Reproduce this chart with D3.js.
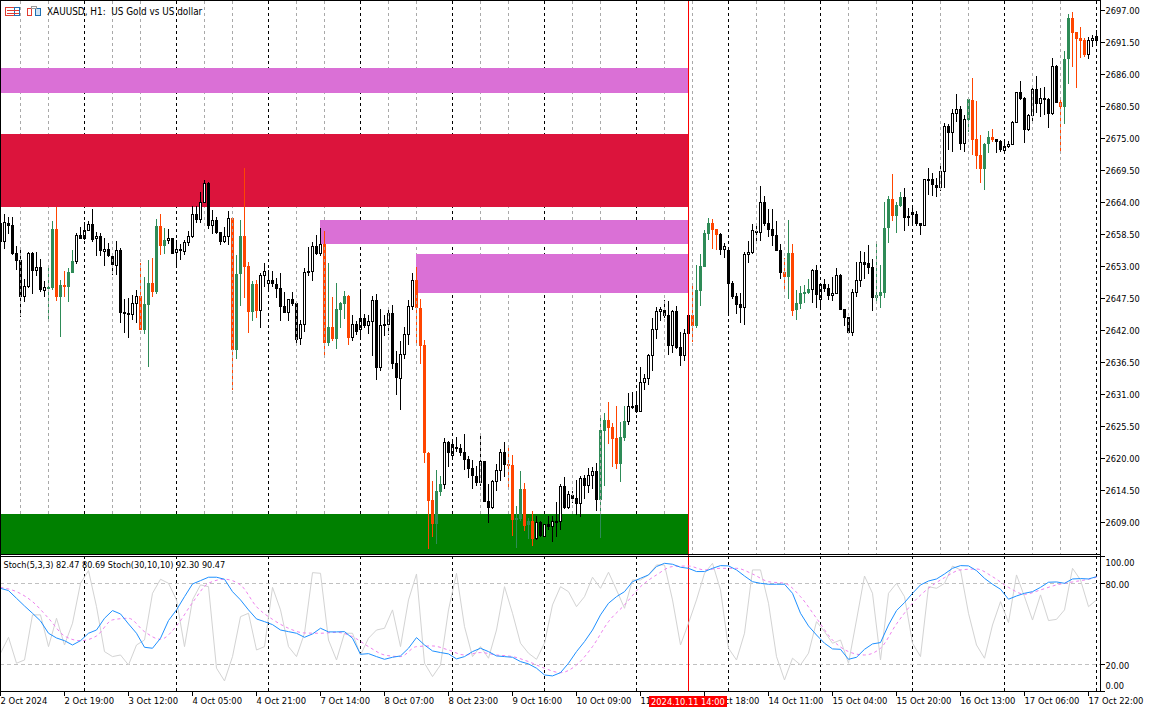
<!DOCTYPE html>
<html>
<head>
<meta charset="utf-8">
<title>XAUUSD H1</title>
<script src="https://cdn.jsdelivr.net/npm/d3@7"></script>
<style>
  html, body { margin: 0; padding: 0; background: #fff; }
  svg { display: block; }
  text { font-family: "DejaVu Sans", sans-serif; font-stretch: condensed; fill: #000; }
</style>
</head>
<body>
<div id="graph"></div>
<script>
// one letter per hourly bar: u white up, d black down, g green up, o orange down
const kinds = ("dudddduudu" + "duggogoggu" + "duudududdu" + "ddduuoggog" + "ogududuuud" +
    "uududduuog" + "googouuudd" + "ddudduudud" + "uogogggoud" + "uduudududd" +
    "uuuuooooog" + "guduuddddd" + "udduuudoog" + "gogoududud" + "ududduduud" +
    "ggoooggudd" + "uuuuuuddud" + "dudoggggoo" + "dudddduuuu" + "udddddogog" +
    "gggududduu" + "ddduuudddg" + "gggoggdddd" + "duddduuduu" + "dugoooggod" +
    "duuuudduud" + "uddudoggoo" + "oouuu").split("");

const highs = [
    2660.62,2661.94,2661.42,2661.42,2656.44,2655.75,2650.71,2655.4,2655.46,2655.4,
    2654.2,2650.48,2652.88,2660.73,2663.2,2650.59,2652.14,2652.6,2655.75,2658.73,
    2659.76,2660.62,2660.79,2662.8,2658.9,2658.61,2657.75,2656.89,2655.06,2657.3,
    2656.03,2647.27,2647.44,2647.96,2648.87,2653.46,2651.16,2654.03,2654.37,2661.08,
    2661.94,2659.53,2659.3,2657.75,2657.47,2656.78,2657.47,2659.01,2663.31,2663.31,
    2665.72,2667.78,2667.44,2662.62,2661.36,2658.84,2659.76,2662.45,2661.36,2654.89,
    2660.9,2669.84,2653.69,2650.42,2650.59,2651.79,2653.51,2652.31,2652.14,2650.93,
    2651.79,2648.53,2647.27,2648.53,2646.81,2643.71,2652.65,2656.26,2657.12,2658.33,
    2659.53,2659.01,2653.51,2647.67,2650.08,2646.81,2648.7,2648.01,2644.57,2643.54,
    2649.04,2644.75,2644.57,2647.84,2648.18,2645.61,2644.57,2645.95,2646.29,2638.39,
    2640.11,2642.51,2647.15,2651.79,2652.83,2647.32,2640.27,2621.02,2616.04,2617.93,
    2616.9,2623.43,2622.91,2623.08,2623.6,2622.4,2624.12,2620.33,2619.65,2618.62,
    2623.77,2619.48,2615.52,2616.21,2618.96,2621.54,2622.74,2622.23,2620.51,2611.74,
    2617.76,2615.69,2609.68,2610.88,2610.02,2609.16,2608.65,2610.02,2610.02,2612.43,
    2615.52,2616.72,2614.32,2614.32,2616.21,2616.9,2617.07,2618.27,2618.44,2619.13,
    2627.04,2627.73,2629.62,2626.01,2628.93,2626.18,2628.93,2631.16,2631.34,2631.16,
    2635.63,2634.43,2637.87,2644.06,2645.95,2645.95,2647.15,2646.98,2645.43,2646.12,
    2641.65,2642.17,2644.7,2650.02,2653.17,2655.06,2659.19,2661.25,2661.08,2659.36,
    2658.67,2656.95,2655.75,2650.42,2648.36,2648.36,2655.4,2657.3,2660.22,2660.05,
    2666.75,2665.03,2662.8,2662.8,2660.73,2656.78,2654.37,2660.9,2656.78,2648.87,
    2649.56,2649.73,2650.76,2652.48,2653.17,2649.9,2650.76,2649.9,2651.11,2652.65,
    2651.62,2645.61,2644.23,2649.04,2653.69,2655.58,2655.4,2656.61,2654.2,2657.3,
    2653.17,2664.0,2665.03,2668.81,2664.0,2665.72,2666.41,2662.97,2663.14,2662.45,
    2660.33,2667.95,2669.84,2668.98,2668.12,2670.18,2677.58,2677.4,2679.98,2682.56,
    2680.5,2678.95,2681.87,2685.31,2681.36,2675.51,2674.14,2676.2,2676.54,2674.83,
    2674.65,2674.31,2674.48,2677.92,2682.91,2684.8,2682.05,2679.12,2683.76,2685.66,
    2683.59,2683.76,2681.87,2688.75,2687.55,2682.05,2689.95,2696.31,2696.66,2693.22,
    2694.08,2692.19,2692.36,2692.7,2693.56
];
const lows = [
    2656.89,2655.92,2658.5,2654.83,2652.31,2644.29,2646.87,2649.16,2648.18,2651.28,
    2648.59,2647.73,2643.43,2648.87,2647.04,2640.85,2647.73,2646.87,2651.74,2653.34,
    2657.58,2657.47,2659.01,2657.18,2654.72,2654.72,2653.0,2654.49,2651.45,2651.45,
    2643.14,2641.54,2640.68,2643.71,2643.26,2642.0,2641.31,2635.69,2647.73,2648.18,
    2654.89,2655.06,2656.78,2655.06,2653.17,2654.03,2654.89,2656.44,2657.75,2660.45,
    2660.45,2663.77,2659.3,2658.5,2658.5,2656.61,2656.89,2656.61,2631.68,2637.01,
    2646.12,2647.5,2641.48,2643.54,2644.06,2642.34,2649.44,2648.76,2649.44,2647.5,
    2643.54,2644.92,2643.54,2646.12,2639.59,2639.42,2641.65,2651.28,2650.42,2654.83,
    2654.72,2637.18,2639.25,2640.11,2638.73,2642.34,2643.89,2639.42,2640.11,2641.14,
    2640.45,2642.34,2641.31,2637.53,2633.4,2634.95,2640.96,2641.14,2635.29,2630.82,
    2628.24,2637.01,2639.42,2645.43,2639.42,2636.15,2619.13,2604.35,2606.41,2605.21,
    2613.46,2614.66,2618.44,2619.65,2621.02,2620.33,2617.93,2616.55,2614.66,2615.18,
    2615.18,2612.43,2608.82,2611.22,2614.32,2616.04,2616.72,2615.01,2606.58,2604.52,
    2609.16,2607.44,2606.07,2604.86,2605.89,2606.41,2606.41,2607.61,2605.55,2606.41,
    2607.61,2611.22,2611.22,2612.26,2610.19,2609.85,2612.94,2613.97,2614.66,2610.88,
    2606.24,2615.18,2622.4,2618.44,2618.1,2615.87,2622.91,2625.66,2628.41,2627.73,
    2627.9,2631.68,2632.54,2634.95,2640.45,2643.54,2644.06,2637.7,2638.04,2638.73,
    2635.81,2636.67,2641.31,2639.93,2642.34,2646.12,2652.83,2657.47,2655.92,2655.75,
    2654.89,2654.37,2644.4,2647.32,2644.75,2643.2,2642.86,2653.51,2655.06,2657.12,
    2657.3,2659.87,2657.98,2656.44,2655.58,2650.76,2648.87,2647.32,2644.4,2643.71,
    2645.61,2646.64,2648.18,2646.64,2645.78,2645.61,2648.53,2647.15,2646.98,2648.18,
    2645.43,2642.68,2641.48,2640.96,2647.67,2649.39,2650.76,2651.62,2645.26,2646.47,
    2645.78,2647.5,2656.95,2660.73,2658.67,2663.14,2659.01,2659.87,2659.87,2659.87,
    2658.32,2659.87,2665.2,2665.03,2664.86,2665.89,2666.4,2672.93,2672.59,2677.75,
    2672.93,2672.59,2676.03,2672.08,2669.67,2667.26,2666.06,2672.42,2674.31,2672.42,
    2672.59,2672.42,2673.28,2673.79,2677.58,2681.53,2674.14,2676.2,2677.4,2679.3,
    2678.61,2678.95,2676.72,2678.95,2681.01,2672.59,2677.4,2684.28,2687.2,2683.59,
    2688.75,2688.92,2688.58,2690.64,2690.81
];
// upper and lower edge of each candle body (open/close, whichever is higher)
const bodyTop = [
    2660.33,2660.5,2660.33,2660.05,2655.17,2654.03,2649.56,2655.17,2655.17,2652.77,
    2652.77,2649.33,2649.39,2659.36,2659.36,2649.73,2649.73,2651.97,2653.86,2658.33,
    2658.33,2659.19,2660.22,2660.22,2658.15,2658.15,2655.92,2655.92,2654.72,2655.75,
    2655.75,2645.03,2644.86,2646.58,2647.84,2647.84,2646.47,2650.08,2650.08,2659.87,
    2659.87,2657.47,2657.75,2657.75,2655.92,2655.92,2657.12,2658.1,2661.94,2661.94,
    2663.94,2667.21,2667.21,2660.9,2660.9,2658.84,2658.15,2661.19,2661.25,2651.62,
    2658.15,2658.15,2653.0,2649.9,2649.9,2651.39,2652.08,2650.59,2650.59,2649.9,
    2649.22,2646.12,2647.27,2647.27,2646.58,2643.03,2651.97,2652.08,2656.44,2656.44,
    2656.78,2656.78,2642.51,2642.51,2645.61,2646.64,2647.84,2647.84,2643.03,2643.03,
    2644.06,2644.06,2643.49,2647.15,2647.15,2642.86,2643.03,2644.92,2644.92,2636.32,
    2637.87,2641.31,2646.12,2650.59,2650.59,2645.72,2639.42,2620.79,2612.77,2614.32,
    2615.52,2622.74,2622.74,2622.4,2621.88,2621.71,2621.02,2619.82,2618.27,2616.9,
    2619.48,2619.48,2612.6,2616.04,2617.93,2621.02,2621.02,2618.96,2618.79,2609.68,
    2614.66,2614.66,2609.16,2609.16,2608.99,2608.99,2608.65,2608.65,2609.16,2609.16,
    2615.18,2615.18,2613.8,2613.63,2613.11,2616.55,2616.55,2617.07,2617.76,2617.76,
    2624.8,2626.52,2626.52,2625.32,2623.43,2623.6,2626.35,2628.93,2628.93,2629.1,
    2633.06,2633.74,2637.7,2642.17,2645.26,2645.6,2645.43,2644.57,2645.26,2645.26,
    2639.07,2641.48,2644.57,2644.57,2648.87,2653.0,2658.67,2660.39,2660.39,2659.36,
    2658.5,2656.44,2655.75,2650.08,2647.84,2646.47,2655.06,2655.4,2659.19,2659.01,
    2664.0,2664.0,2660.39,2659.36,2658.33,2655.75,2651.97,2655.23,2655.23,2646.64,
    2648.36,2648.53,2649.04,2652.31,2652.31,2649.9,2649.9,2649.22,2648.36,2651.45,
    2651.45,2645.61,2644.23,2648.53,2650.59,2653.69,2653.69,2653.51,2652.83,2648.01,
    2648.53,2659.53,2664.51,2664.51,2663.48,2664.86,2664.86,2661.59,2662.28,2661.94,
    2660.33,2667.95,2667.95,2667.95,2666.92,2669.33,2677.06,2677.06,2679.3,2679.98,
    2679.98,2678.26,2681.7,2681.53,2674.83,2672.08,2673.97,2675.17,2675.17,2674.83,
    2674.48,2673.62,2673.97,2677.75,2682.91,2682.91,2681.87,2678.95,2683.42,2683.42,
    2681.87,2681.87,2681.76,2687.37,2687.37,2681.19,2688.58,2695.63,2695.63,2693.22,
    2692.19,2691.84,2691.84,2692.19,2692.53
];
const bodyBottom = [
    2657.18,2657.18,2659.87,2655.06,2653.91,2647.73,2647.73,2649.44,2652.2,2652.2,
    2648.87,2648.76,2649.27,2649.27,2647.73,2647.73,2649.39,2649.44,2651.85,2653.74,
    2657.7,2657.7,2659.07,2657.47,2657.58,2655.63,2655.46,2654.72,2653.11,2653.0,
    2644.86,2644.75,2644.57,2644.63,2646.47,2642.0,2642.0,2646.29,2648.53,2648.53,
    2656.44,2656.44,2657.35,2655.06,2655.29,2655.58,2655.4,2657.01,2657.98,2660.9,
    2660.9,2663.88,2659.87,2659.93,2658.73,2657.12,2657.12,2658.04,2638.56,2638.56,
    2651.62,2652.83,2645.09,2645.09,2645.26,2645.32,2651.28,2649.96,2649.9,2649.04,
    2645.95,2644.92,2644.98,2646.47,2640.28,2640.45,2642.91,2651.79,2651.97,2655.06,
    2655.06,2639.76,2639.76,2640.45,2640.45,2645.43,2646.47,2640.62,2640.62,2641.65,
    2642.0,2642.68,2642.68,2643.37,2635.46,2635.46,2642.68,2642.86,2636.15,2633.74,
    2633.57,2637.7,2641.14,2645.95,2645.72,2639.25,2620.79,2612.6,2608.65,2608.65,
    2614.15,2615.35,2620.85,2620.33,2621.54,2620.85,2619.65,2618.1,2616.9,2615.69,
    2615.69,2612.43,2611.4,2611.4,2615.87,2617.76,2618.79,2618.62,2609.33,2609.33,
    2609.5,2608.3,2608.47,2606.07,2606.07,2606.58,2606.41,2608.13,2608.13,2608.82,
    2608.93,2611.4,2611.4,2612.94,2612.08,2612.08,2615.18,2615.18,2616.9,2612.77,
    2612.77,2624.63,2625.15,2623.26,2618.96,2618.96,2623.43,2626.18,2628.76,2627.9,
    2627.9,2632.88,2633.57,2637.52,2641.99,2645.09,2644.4,2639.24,2639.24,2638.9,
    2637.52,2637.52,2641.31,2642.68,2642.68,2648.7,2652.83,2658.5,2659.19,2658.33,
    2655.75,2655.75,2649.9,2647.67,2646.29,2645.78,2645.78,2654.95,2655.23,2658.67,
    2658.73,2660.22,2659.19,2658.15,2655.58,2651.79,2651.11,2651.11,2645.26,2645.43,
    2646.47,2648.18,2648.36,2648.87,2648.01,2647.15,2649.04,2647.84,2647.84,2648.18,
    2645.43,2644.06,2641.48,2641.48,2648.36,2650.42,2653.17,2652.65,2647.5,2647.5,
    2647.84,2648.36,2659.53,2661.59,2661.59,2663.31,2661.25,2661.25,2661.76,2660.22,
    2659.87,2659.87,2667.78,2666.92,2666.4,2666.4,2669.15,2675.86,2675.86,2679.12,
    2673.97,2673.97,2678.09,2674.65,2671.9,2669.67,2669.67,2673.97,2674.65,2674.31,
    2672.93,2672.76,2673.45,2673.79,2677.58,2681.7,2676.37,2676.37,2678.78,2680.84,
    2680.84,2681.53,2679.12,2679.12,2681.01,2680.33,2680.33,2688.58,2693.05,2692.02,
    2691.67,2689.27,2689.27,2691.67,2691.67
];

// stochastic lines, grey and blue sampled every 2 bars, the dashed signal every 4 bars
const stochFast = [
    28.2,40,20.8,23.2,56.6,56.6,33.1,54.1,34.3,50.4,80,89.4,62.7,29.4,25.7,26.9,19.5,34.3,38,72.6,83,80,67.7,33.1,67.7,
    78.8,77.5,17.1,7.7,25.7,55.3,57.8,30.6,33.1,77,60.3,33.1,25.7,43,87.9,87.4,38,23.2,43,43,26.9,39.3,45.4,46.7,60.3,33.1,
    67.7,86.9,20.8,10.9,19.5,60.3,87.4,47.9,25.7,33.1,24.5,45.4,77.5,57.8,35.6,28.2,23.7,35.6,64,77.5,73.8,62.7,70.1,84.5,76.3,
    88.2,75.1,61.5,82.5,82.5,86.2,93.6,93.6,67.7,34.3,50.4,67.7,87.4,94.8,75.1,31.9,23.2,43,89.9,89.9,65.2,25.7,8.4,24.5,19.5,
    28.2,51.6,44.2,35.6,38,20.8,52.8,85.4,72.6,23.2,72.6,80,70.1,35.6,25.7,77.5,76.3,80,92.8,89.9,
    57.8,34.3,24.5,49.1,66.4,50.9,86.2,70.1,52.8,71.4,52.4,53.3,60.3,91.1,82.5,62.7,67.7
];
const stochSlow = [
    76.3,74.6,68.9,63.2,57.8,52.1,43,39.5,37.5,34.3,37.5,43,45.4,54.1,59.8,57.3,49.9,43,32.6,31.9,39.3,52.4,60.3,70.1,79.5,
    82,84.5,84.5,83,73.8,67.7,60.3,53.6,51.6,49.4,45.4,44.2,43,40,42.5,46.7,44,44,44.2,39.3,27.4,27.9,25.7,23.7,25.2,26.2,
    31.9,39.8,34.3,29.9,28.7,27.7,24,25.7,29.4,31.9,29.4,26.2,25.7,25.2,22,20.3,17.1,12.1,11.4,13.8,20.8,29.4,36.8,45.4,56.6,
    65.2,70.1,73.8,81.2,83.7,86.2,92.4,94.8,94.1,91.9,91.1,88.7,88.7,91.1,93.1,92.9,89.9,85.4,81.2,80,79.3,79.3,79.3,72.6,57.8,
    48.4,41.7,35.6,31.4,31.1,23.7,25.2,31.1,35.1,36.1,49.1,59.8,65.7,72.6,78.8,81.7,83.2,86.9,91.1,93.1,92.9,89.4,83.7,79.3,
    75.6,68.2,70.6,72.6,73.8,77,80.8,81,80,83.2,83.5,83.2,84.9
];
const stochSignal = [
    77,73.8,66.4,54.1,41,37.5,41,52.9,54.1,44.2,38.5,48.4,65.7,80,83,78.8,62.7,53.3,46.7,43.2,43,43.7,40.5,33.1,26.9,25.7,
    33.1,33.6,30.6,26.9,28.7,26.9,25.7,22,17.1,13.8,19.5,33.1,51.6,64,77.5,86.2,92.4,92.8,89.9,91.1,91.1,86.9,81.2,80,70.1,
    54.1,38,29.4,26.9,31.9,49.9,65.2,76.3,84.2,89.9,90.6,84.9,77,71.9,75.1,78.8,81,83,84.5
];
const fastBars = d3.range(0, 275, 2);
const signalBars = d3.range(0, 273, 4).concat(274);

const priceTicks = [2697, 2691.5, 2686, 2680.5, 2675, 2669.5, 2664, 2658.5, 2653, 2647.5, 2642, 2636.5, 2631, 2625.5, 2620, 2614.5, 2609];
const stochTicks = [100, 80, 20, 0];
const stochLevels = [80, 20];
const timeBars = d3.range(0, 273, 16);
const timeLabels = ["2 Oct 2024", "2 Oct 19:00", "3 Oct 12:00", "4 Oct 05:00", "4 Oct 21:00", "7 Oct 14:00", "8 Oct 07:00", "8 Oct 23:00", "9 Oct 16:00",
    "10 Oct 09:00", "11 Oct 02:00", "11 Oct 18:00", "14 Oct 11:00", "15 Oct 04:00", "15 Oct 20:00", "16 Oct 13:00", "17 Oct 06:00", "17 Oct 22:00"];

// drawn zones: first bar, upper price, lower price, colour (all end at the marker bar)
const zoneStart = [0, 0, 80, 104, 0];
const zoneUpper = [2687.03, 2675.69, 2660.9, 2655.06, 2610.37];
const zoneLower = [2682.73, 2663.14, 2656.83, 2648.36, 2603.5];
const zoneColors = ["#da70d6", "#dc143c", "#da70d6", "#da70d6", "#008000"];
const markerBar = 172;
const markerLabel = "2024.10.11 14:00";

// day separators (black, both panes) and session lines (grey, price pane only)
const dayBars = d3.range(21, 275, 23);
const sessionBars = [5, 12].concat(d3.range(28, 275, 23), d3.range(35, 275, 23));

const width = 1152, height = 711;
const paneRight = 1100, priceBottom = 554, stochTop = 556, stochBottom = 691;

const x = d3.scaleLinear().domain([0, 274]).range([0.5, 1096.5]);
const y = d3.scaleLinear().domain([2609, 2697]).range([522, 10]);
const yStoch = d3.scaleLinear().domain([0, 100]).range([691.3, 556.3]);

const svg = d3.select("#graph").append("svg")
    .attr("width", width)
    .attr("height", height)
    .attr("viewBox", `0 0 ${width} ${height}`);

svg.append("rect").attr("width", width).attr("height", height).attr("fill", "#fff");

const defs = svg.append("defs");
defs.append("clipPath").attr("id", "priceClip")
  .append("rect").attr("x", 0).attr("y", 0).attr("width", paneRight).attr("height", priceBottom);
defs.append("clipPath").attr("id", "stochClip")
  .append("rect").attr("x", 0).attr("y", stochTop).attr("width", paneRight).attr("height", stochBottom - stochTop);

// the separators do not show through the zones, so cut the zones out of them
const zoneBox = zoneStart.map((d, i) => [Math.round(x(d) - 0.5), Math.round(y(zoneUpper[i])), Math.round(x(markerBar) - 0.5), Math.round(y(zoneLower[i]))]);
defs.append("clipPath").attr("id", "lineClip")
  .append("path")
    .attr("clip-rule", "evenodd")
    .attr("d", `M0 0H${paneRight}V${priceBottom}H0Z` + zoneBox.map(b => `M${b[0]} ${b[1]}H${b[2]}V${b[3]}H${b[0]}Z`).join(""));

const zones = svg.append("g").attr("shape-rendering", "crispEdges");
zones.selectAll("rect")
  .data(zoneBox)
  .join("rect")
    .attr("x", d => d[0])
    .attr("y", d => d[1])
    .attr("width", d => d[2] - d[0])
    .attr("height", d => d[3] - d[1])
    .attr("fill", (d, i) => zoneColors[i]);

// candles
const candleColor = {u: "#000", d: "#000", g: "#2e8b57", o: "#ff4500"};
const candles = svg.append("g")
    .attr("clip-path", "url(#priceClip)")
    .attr("shape-rendering", "crispEdges")
  .selectAll("g")
  .data(kinds.map((k, i) => i))
  .join("g");

candles.append("line")
    .attr("x1", d => x(d))
    .attr("x2", d => x(d))
    .attr("y1", d => Math.round(y(highs[d])))
    .attr("y2", d => Math.round(y(lows[d])))
    .attr("stroke", d => candleColor[kinds[d]]);

candles.append("rect")
    .attr("x", d => x(d) - 1)
    .attr("width", 2)
    .attr("y", d => Math.round(y(bodyTop[d])) + 0.5)
    .attr("height", d => Math.max(1, Math.round(y(bodyBottom[d])) - Math.round(y(bodyTop[d])) - 1))
    .attr("fill", d => kinds[d] == "u" ? "#fff" : candleColor[kinds[d]])
    .attr("stroke", d => candleColor[kinds[d]]);

// vertical separators
const lines = svg.append("g").attr("shape-rendering", "crispEdges");
lines.append("g").attr("clip-path", "url(#lineClip)")
  .selectAll("line")
  .data(sessionBars)
  .join("line")
    .attr("x1", d => x(d)).attr("x2", d => x(d))
    .attr("y1", 1).attr("y2", priceBottom)
    .attr("stroke", "#a9a9a9")
    .attr("stroke-dasharray", "3,3");
lines.append("g").attr("clip-path", "url(#lineClip)")
  .selectAll("line")
  .data(dayBars)
  .join("line")
    .attr("x1", d => x(d)).attr("x2", d => x(d))
    .attr("y1", 1).attr("y2", priceBottom)
    .attr("stroke", "#000")
    .attr("stroke-dasharray", "3,3");
lines.append("g")
  .selectAll("line")
  .data(dayBars)
  .join("line")
    .attr("x1", d => x(d)).attr("x2", d => x(d))
    .attr("y1", stochTop).attr("y2", stochBottom)
    .attr("stroke", "#000")
    .attr("stroke-dasharray", "3,3");

// oscillator pane
svg.append("g")
    .attr("shape-rendering", "crispEdges")
  .selectAll("line")
  .data(stochLevels)
  .join("line")
    .attr("x1", 0).attr("x2", paneRight)
    .attr("y1", d => Math.round(yStoch(d)) + 0.5).attr("y2", d => Math.round(yStoch(d)) + 0.5)
    .attr("stroke", "#c0c0c0")
    .attr("stroke-dasharray", "4,3");

svg.append("line")
    .attr("x1", x(markerBar)).attr("x2", x(markerBar))
    .attr("y1", 0).attr("y2", stochBottom)
    .attr("stroke", "#f00")
    .attr("shape-rendering", "crispEdges");

const stochLine = d3.line().x(d => x(d[0])).y(d => yStoch(d[1]));
const signalLine = d3.line().x(d => x(d[0])).y(d => yStoch(d[1])).curve(d3.curveMonotoneX);
const stochPane = svg.append("g").attr("clip-path", "url(#stochClip)").attr("fill", "none");
stochPane.append("path")
    .attr("d", stochLine(fastBars.map((b, i) => [b, stochFast[i]])))
    .attr("stroke", "#d3d3d3");
stochPane.append("path")
    .attr("d", signalLine(signalBars.map((b, i) => [b, stochSignal[i]])))
    .attr("stroke", "#ee82ee")
    .attr("stroke-dasharray", "3,3");
stochPane.append("path")
    .attr("d", stochLine(fastBars.map((b, i) => [b, stochSlow[i]])))
    .attr("stroke", "#1e90ff");

// frame
const frame = [
    [0, 0.5, paneRight, 0.5], [0.5, 0, 0.5, stochBottom],
    [0, priceBottom + 0.5, paneRight, priceBottom + 0.5], [0, stochTop + 0.5, paneRight, stochTop + 0.5],
    [0, stochBottom + 0.5, paneRight + 0.5, stochBottom + 0.5], [paneRight + 0.5, 0, paneRight + 0.5, stochBottom + 1]
];
svg.append("g")
    .attr("shape-rendering", "crispEdges")
  .selectAll("line")
  .data(frame)
  .join("line")
    .attr("x1", d => d[0]).attr("y1", d => d[1])
    .attr("x2", d => d[2]).attr("y2", d => d[3])
    .attr("stroke", "#000");

// axes
const priceAxis = svg.append("g")
    .attr("transform", `translate(${paneRight + 0.5},0)`)
    .call(d3.axisRight(y).tickValues(priceTicks).tickFormat(d3.format(".2f")).tickSize(4).tickPadding(1).offset(0.5));
const stochAxis = svg.append("g")
    .attr("transform", `translate(${paneRight + 0.5},0)`)
    .call(d3.axisRight(yStoch).tickValues(stochTicks).tickFormat(d3.format(".2f")).tickSize(4).tickPadding(1).offset(0.5));
const timeAxis = svg.append("g")
    .attr("transform", `translate(0,${stochBottom + 0.5})`)
    .call(d3.axisBottom(x).tickValues(timeBars).tickFormat((d, i) => timeLabels[i]).tickSize(4).tickPadding(2).offset(0));

[priceAxis, stochAxis, timeAxis].forEach(a => {
    a.select(".domain").remove();
    a.attr("font-family", null).attr("font-size", null);
    a.selectAll("line").attr("shape-rendering", "crispEdges");
});
priceAxis.selectAll("text").style("font-size", "9.2px").attr("dy", "0.42em");
stochAxis.selectAll("text").style("font-size", "9.2px").attr("dy", d => d == 100 ? "0.95em" : d == 0 ? "-0.3em" : "0.42em");
timeAxis.selectAll("text").style("font-size", "9.4px").attr("text-anchor", "start").attr("x", 0);

// crosshair time label
svg.append("rect")
    .attr("x", 649).attr("y", 696)
    .attr("width", 78).attr("height", 11)
    .attr("fill", "#f00");
svg.append("text")
    .attr("x", 688).attr("y", 705)
    .attr("text-anchor", "middle")
    .style("font-size", "9.2px")
    .style("fill", "#fff")
    .text(markerLabel);

// title and legend
svg.append("text")
    .attr("x", 47).attr("y", 15)
    .attr("xml:space", "preserve")
    .style("white-space", "pre")
    .style("font-size", "9.9px")
    .text("XAUUSD, H1:  US Gold vs US dollar");
svg.append("text")
    .attr("x", 3.5).attr("y", 568)
    .style("font-size", "9.05px")
    .text("Stoch(5,3,3) 82.47 80.69 Stoch(30,10,10) 92.30 90.47");

// toolbar icons next to the title
const icons = svg.append("g").attr("shape-rendering", "crispEdges").attr("fill", "none");
icons.append("rect").attr("x", 5.5).attr("y", 7.5).attr("width", 9).attr("height", 8).attr("stroke", "#e03c31");
icons.append("rect").attr("x", 14.5).attr("y", 7.5).attr("width", 5).attr("height", 8).attr("stroke", "#1f6fb2");
icons.selectAll("path.rows").data([10, 13]).join("path")
    .attr("d", d => `M7 ${d + 0.5}H19`).attr("stroke", "#e03c31");
icons.append("path").attr("d", "M27.5 8.5H31.5V15.5H27.5Z").attr("stroke", "#e03c31");
icons.append("path").attr("d", "M35.5 8.5H40.5V15.5H35.5Z").attr("stroke", "#1f6fb2").attr("fill", "#cfe4f5");
icons.append("rect").attr("x", 31.5).attr("y", 6.5).attr("width", 5).attr("height", 2).attr("stroke", "#999");
</script>
</body>
</html>
